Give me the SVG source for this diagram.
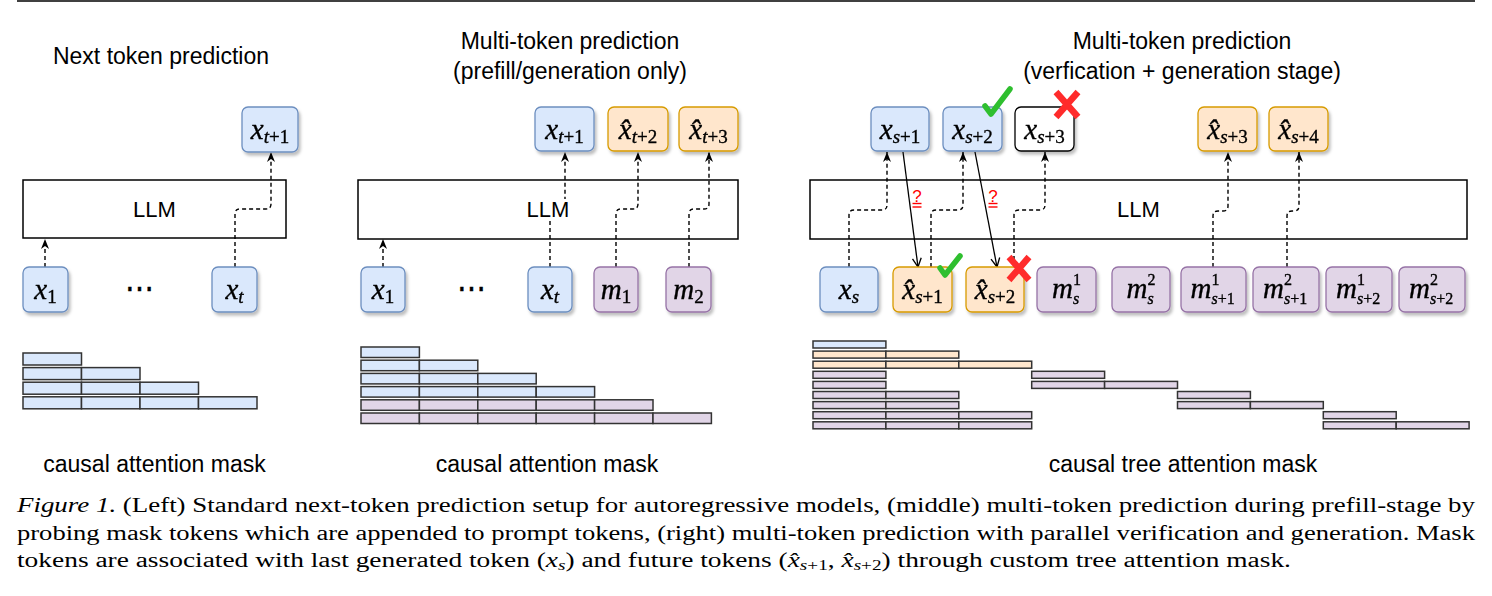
<svg xmlns="http://www.w3.org/2000/svg" width="1492" height="596" viewBox="0 0 1492 596">
<style>
.bl{fill:#dae8fc;stroke:#6c8ebf;stroke-width:1.3}
.or{fill:#ffe6cc;stroke:#d79b00;stroke-width:1.3}
.pu{fill:#e1d5e7;stroke:#9673a6;stroke-width:1.3}
.wh{fill:#fff;stroke:#000;stroke-width:1.3}
.node{filter:url(#sh)}
.llm{fill:none;stroke:#000;stroke-width:1.5}
.mask rect{stroke:#333;stroke-width:1.5}
.mb{fill:#dae8fc}.mo{fill:#ffe6cc}.mp{fill:#e1d5e7}
.sans{font-family:"Liberation Sans",Arial,sans-serif;fill:#000}
.t23{font-size:23px;text-anchor:middle}
.t22{font-size:22px;text-anchor:middle}
.mx{font-family:"Liberation Serif","Times New Roman",serif;font-style:italic;font-size:29px;fill:#000;stroke:#000;stroke-width:0.35}
.mid{text-anchor:middle}
.sb{font-size:19px}
.ss{font-size:16px}
.up{font-style:normal}
.dash{fill:none;stroke:#000;stroke-width:1.4;stroke-dasharray:4 3;marker-end:url(#arr)}
.solid{fill:none;stroke:#000;stroke-width:1.3;marker-end:url(#open)}
.q{font-family:"Liberation Sans",Arial,sans-serif;font-size:17px;fill:#ff0000;text-anchor:middle}
.qb{stroke:#ff0000;stroke-width:1.4}
.ok{fill:none;stroke:#2fbf2f;stroke-width:5.5;stroke-linecap:round;stroke-linejoin:round}
.no{fill:none;stroke:#ff2b2b;stroke-width:6.5}
.cap{font-family:"Liberation Serif","Times New Roman",serif;font-size:20px;fill:#000}
.cmi{font-style:italic}
</style>
<defs>
<filter id="sh" x="-15%" y="-15%" width="140%" height="150%">
<feDropShadow dx="2" dy="3" stdDeviation="1.5" flood-color="#000" flood-opacity="0.25"/>
</filter>
<marker id="arr" viewBox="0 0 10 8" refX="10" refY="4" markerWidth="10" markerHeight="8" markerUnits="userSpaceOnUse" orient="auto">
<path d="M0,0 L10,4 L0,8 L3,4 z" fill="#000"/>
</marker>
<marker id="open" viewBox="0 0 10 10" refX="9" refY="5" markerWidth="11" markerHeight="11" markerUnits="userSpaceOnUse" orient="auto">
<path d="M1,1 L9,5 L1,9" fill="none" stroke="#000" stroke-width="1.2"/>
</marker>
</defs>

<line x1="17" y1="1" x2="1475" y2="1" stroke="#000" stroke-width="1.6"/>

<!-- titles -->
<text class="sans t23" x="161" y="64">Next token prediction</text>
<text class="sans t23" x="570" y="49">Multi-token prediction</text>
<text class="sans t23" x="570" y="79">(prefill/generation only)</text>
<text class="sans t23" x="1182" y="49">Multi-token prediction</text>
<text class="sans t23" x="1182" y="79">(verfication + generation stage)</text>

<!-- connectors -->
<g id="connectors">
<path class="dash" d="M45,267 V239"/>
<path class="dash" d="M235,267 V214 Q235,209 240,209 H266 Q271,209 271,204 V152"/>
<path class="dash" d="M383,267 V239"/>
<path class="dash" d="M550,267 V214 Q550,209 555,209 H560 Q565,209 565,204 V152"/>
<path class="dash" d="M616,267 V214 Q616,209 621,209 H633 Q638,209 638,204 V152"/>
<path class="dash" d="M689,267 V214 Q689,209 694,209 H704 Q709,209 709,204 V152"/>
<path class="dash" d="M849,267 V215 Q849,210 854,210 H882 Q887,210 887,205 V152"/>
<path class="dash" d="M931,267 V215 Q931,210 936,210 H958 Q963,210 963,205 V152"/>
<path class="dash" d="M1014,267 V215 Q1014,210 1019,210 H1040 Q1045,210 1045,205 V152"/>
<path class="dash" d="M1213,267 V216 Q1213,211 1218,211 H1223 Q1228,211 1228,206 V152"/>
<path class="dash" d="M1287,267 V216 Q1287,211 1292,211 H1294 Q1299,211 1299,206 V152"/>
<path class="solid" d="M903,152 L918,267"/>
<path class="solid" d="M975,152 L997,267"/>
<text class="q" x="917" y="202">?</text>
<line class="qb" x1="912.5" y1="203.5" x2="921.5" y2="203.5"/><line class="qb" x1="912.5" y1="207" x2="921.5" y2="207"/>
<text class="q" x="993" y="202">?</text>
<line class="qb" x1="988.5" y1="203.5" x2="997.5" y2="203.5"/><line class="qb" x1="988.5" y1="207" x2="997.5" y2="207"/>
</g>

<!-- LLM boxes -->
<g id="llm-left"><rect class="llm" x="23" y="180" width="263" height="58"/><text class="sans t22" x="154.5" y="217">LLM</text></g>
<g id="llm-mid"><rect class="llm" x="358" y="180" width="380" height="59"/><rect x="525" y="199" width="45" height="19" fill="#fff"/><text class="sans t22" x="548" y="217">LLM</text></g>
<g id="llm-right"><rect class="llm" x="810" y="180" width="657" height="59"/><text class="sans t22" x="1138.5" y="217">LLM</text></g>

<!-- left panel nodes -->
<g id="l-xt1" class="node"><rect class="bl" x="242" y="107" width="56" height="45" rx="6"/><text class="mx mid" x="270" y="139">x<tspan class="sb" dy="4">t</tspan><tspan class="sb up">+1</tspan></text></g>
<g id="l-x1" class="node"><rect class="bl" x="23" y="267" width="45" height="45" rx="6"/><text class="mx mid" x="45.5" y="299">x<tspan class="sb up" dy="4">1</tspan></text></g>
<text class="mx up mid" x="139" y="298" stroke-width="0">⋯</text>
<g id="l-xt" class="node"><rect class="bl" x="212" y="267" width="45" height="45" rx="6"/><text class="mx mid" x="234.5" y="299">x<tspan class="sb" dy="4">t</tspan></text></g>

<!-- middle panel nodes -->
<g id="m-xt1" class="node"><rect class="bl" x="535" y="107" width="59" height="44" rx="6"/><text class="mx mid" x="564.5" y="139">x<tspan class="sb" dy="4">t</tspan><tspan class="sb up">+1</tspan></text></g>
<g id="m-xht2" class="node"><rect class="or" x="608" y="107" width="60" height="44" rx="6"/><text class="mx mid" x="638" y="139">x̂<tspan class="sb" dy="4">t</tspan><tspan class="sb up">+2</tspan></text></g>
<g id="m-xht3" class="node"><rect class="or" x="679" y="107" width="59" height="44" rx="6"/><text class="mx mid" x="708.5" y="139">x̂<tspan class="sb" dy="4">t</tspan><tspan class="sb up">+3</tspan></text></g>
<g id="m-x1" class="node"><rect class="bl" x="361" y="267" width="44" height="45" rx="6"/><text class="mx mid" x="383" y="299">x<tspan class="sb up" dy="4">1</tspan></text></g>
<text class="mx up mid" x="471" y="298" stroke-width="0">⋯</text>
<g id="m-xt" class="node"><rect class="bl" x="528" y="267" width="44" height="45" rx="6"/><text class="mx mid" x="550" y="299">x<tspan class="sb" dy="4">t</tspan></text></g>
<g id="m-m1" class="node"><rect class="pu" x="594" y="267" width="44" height="45" rx="6"/><text class="mx mid" x="616" y="299">m<tspan class="sb up" dy="4">1</tspan></text></g>
<g id="m-m2" class="node"><rect class="pu" x="666" y="267" width="45" height="45" rx="6"/><text class="mx mid" x="688.5" y="299">m<tspan class="sb up" dy="4">2</tspan></text></g>

<!-- right panel nodes -->
<g id="r-xs1" class="node"><rect class="bl" x="871" y="107" width="58" height="44" rx="6"/><text class="mx mid" x="900" y="139">x<tspan class="sb" dy="4">s</tspan><tspan class="sb up">+1</tspan></text></g>
<g id="r-xs2" class="node"><rect class="bl" x="943" y="107" width="59" height="44" rx="6"/><text class="mx mid" x="972.5" y="139">x<tspan class="sb" dy="4">s</tspan><tspan class="sb up">+2</tspan></text></g>
<g id="r-xs3" class="node"><rect class="wh" x="1015" y="107" width="59" height="44" rx="6"/><text class="mx mid" x="1044.5" y="139">x<tspan class="sb" dy="4">s</tspan><tspan class="sb up">+3</tspan></text></g>
<g id="r-xhs3" class="node"><rect class="or" x="1198" y="107" width="59" height="44" rx="6"/><text class="mx mid" x="1227.5" y="139">x̂<tspan class="sb" dy="4">s</tspan><tspan class="sb up">+3</tspan></text></g>
<g id="r-xhs4" class="node"><rect class="or" x="1269" y="107" width="59" height="44" rx="6"/><text class="mx mid" x="1298.5" y="139">x̂<tspan class="sb" dy="4">s</tspan><tspan class="sb up">+4</tspan></text></g>

<g id="r-xs" class="node"><rect class="bl" x="820" y="267" width="58" height="45" rx="6"/><text class="mx mid" x="849" y="299">x<tspan class="sb" dy="4">s</tspan></text></g>
<g id="r-xhs1" class="node"><rect class="or" x="893" y="267" width="59" height="45" rx="6"/><text class="mx mid" x="922.5" y="299">x̂<tspan class="sb" dy="4">s</tspan><tspan class="sb up">+1</tspan></text></g>
<g id="r-xhs2" class="node"><rect class="or" x="966" y="267" width="58" height="45" rx="6"/><text class="mx mid" x="995" y="299">x̂<tspan class="sb" dy="4">s</tspan><tspan class="sb up">+2</tspan></text></g>
<g id="r-ms1" class="node"><rect class="pu" x="1037" y="267" width="59" height="45" rx="6"/><text class="mx" x="1052" y="298">m</text><text class="mx ss up" x="1073" y="285">1</text><text class="mx ss" x="1073" y="304">s</text></g>
<g id="r-ms2" class="node"><rect class="pu" x="1112" y="267" width="58" height="45" rx="6"/><text class="mx" x="1126.5" y="298">m</text><text class="mx ss up" x="1147.5" y="285">2</text><text class="mx ss" x="1147.5" y="304">s</text></g>
<g id="r-ms11" class="node"><rect class="pu" x="1181" y="267" width="65" height="45" rx="6"/><text class="mx" x="1190.5" y="298">m</text><text class="mx ss up" x="1211.5" y="285">1</text><text class="mx ss" x="1211.5" y="304">s<tspan class="up">+1</tspan></text></g>
<g id="r-ms21" class="node"><rect class="pu" x="1253" y="267" width="66" height="45" rx="6"/><text class="mx" x="1263" y="298">m</text><text class="mx ss up" x="1284" y="285">2</text><text class="mx ss" x="1284" y="304">s<tspan class="up">+1</tspan></text></g>
<g id="r-ms12" class="node"><rect class="pu" x="1326" y="267" width="66" height="45" rx="6"/><text class="mx" x="1336" y="298">m</text><text class="mx ss up" x="1357" y="285">1</text><text class="mx ss" x="1357" y="304">s<tspan class="up">+2</tspan></text></g>
<g id="r-ms22" class="node"><rect class="pu" x="1399" y="267" width="66" height="45" rx="6"/><text class="mx" x="1409" y="298">m</text><text class="mx ss up" x="1430" y="285">2</text><text class="mx ss" x="1430" y="304">s<tspan class="up">+2</tspan></text></g>

<!-- verification marks -->
<g id="marks">
<path class="ok" d="M985,106 L991,114 L1010,89"/>
<path class="ok" d="M940,268 L945,275 L960,256"/>
<path class="no" d="M1056,92 L1078,117 M1078,92 L1056,117"/>
<path class="no" d="M1009,257 L1029,280 M1029,257 L1009,280"/>
</g>

<!-- masks -->
<g id="mask-left" class="mask">
<rect class="mb" x="23" y="353" width="58.5" height="12"/>
<rect class="mb" x="23" y="367.6" width="58.5" height="12"/><rect class="mb" x="81.5" y="367.6" width="58.5" height="12"/>
<rect class="mb" x="23" y="382.2" width="58.5" height="12"/><rect class="mb" x="81.5" y="382.2" width="58.5" height="12"/><rect class="mb" x="140" y="382.2" width="58.5" height="12"/>
<rect class="mb" x="23" y="396.8" width="58.5" height="12"/><rect class="mb" x="81.5" y="396.8" width="58.5" height="12"/><rect class="mb" x="140" y="396.8" width="58.5" height="12"/><rect class="mb" x="198.5" y="396.8" width="58.5" height="12"/>
</g>
<text class="sans t23" x="154.5" y="472">causal attention mask</text>

<g id="mask-mid" class="mask">
<rect class="mb" x="361" y="347" width="58.4" height="10.5"/>
<rect class="mb" x="361" y="360.2" width="58.4" height="10.5"/><rect class="mb" x="419.4" y="360.2" width="58.4" height="10.5"/>
<rect class="mb" x="361" y="373.4" width="58.4" height="10.5"/><rect class="mb" x="419.4" y="373.4" width="58.4" height="10.5"/><rect class="mb" x="477.8" y="373.4" width="58.4" height="10.5"/>
<rect class="mb" x="361" y="386.6" width="58.4" height="10.5"/><rect class="mb" x="419.4" y="386.6" width="58.4" height="10.5"/><rect class="mb" x="477.8" y="386.6" width="58.4" height="10.5"/><rect class="mb" x="536.2" y="386.6" width="58.4" height="10.5"/>
<rect class="mp" x="361" y="399.8" width="58.4" height="10.5"/><rect class="mp" x="419.4" y="399.8" width="58.4" height="10.5"/><rect class="mp" x="477.8" y="399.8" width="58.4" height="10.5"/><rect class="mp" x="536.2" y="399.8" width="58.4" height="10.5"/><rect class="mp" x="594.6" y="399.8" width="58.4" height="10.5"/>
<rect class="mp" x="361" y="413" width="58.4" height="10.5"/><rect class="mp" x="419.4" y="413" width="58.4" height="10.5"/><rect class="mp" x="477.8" y="413" width="58.4" height="10.5"/><rect class="mp" x="536.2" y="413" width="58.4" height="10.5"/><rect class="mp" x="594.6" y="413" width="58.4" height="10.5"/><rect class="mp" x="653" y="413" width="58.4" height="10.5"/>
</g>
<text class="sans t23" x="547" y="472">causal attention mask</text>

<g id="mask-right" class="mask">
<rect class="mb" x="813" y="341" width="72.9" height="7"/>
<rect class="mo" x="813" y="351.1" width="72.9" height="7"/><rect class="mo" x="885.9" y="351.1" width="72.9" height="7"/>
<rect class="mo" x="813" y="361.2" width="72.9" height="7"/><rect class="mo" x="885.9" y="361.2" width="72.9" height="7"/><rect class="mo" x="958.8" y="361.2" width="72.9" height="7"/>
<rect class="mp" x="813" y="371.3" width="72.9" height="7"/><rect class="mp" x="1031.7" y="371.3" width="72.9" height="7"/>
<rect class="mp" x="813" y="381.4" width="72.9" height="7"/><rect class="mp" x="1031.7" y="381.4" width="72.9" height="7"/><rect class="mp" x="1104.6" y="381.4" width="72.9" height="7"/>
<rect class="mp" x="813" y="391.5" width="72.9" height="7"/><rect class="mp" x="885.9" y="391.5" width="72.9" height="7"/><rect class="mp" x="1177.5" y="391.5" width="72.9" height="7"/>
<rect class="mp" x="813" y="401.6" width="72.9" height="7"/><rect class="mp" x="885.9" y="401.6" width="72.9" height="7"/><rect class="mp" x="1177.5" y="401.6" width="72.9" height="7"/><rect class="mp" x="1250.4" y="401.6" width="72.9" height="7"/>
<rect class="mp" x="813" y="411.7" width="72.9" height="7"/><rect class="mp" x="885.9" y="411.7" width="72.9" height="7"/><rect class="mp" x="958.8" y="411.7" width="72.9" height="7"/><rect class="mp" x="1323.3" y="411.7" width="72.9" height="7"/>
<rect class="mp" x="813" y="421.8" width="72.9" height="7"/><rect class="mp" x="885.9" y="421.8" width="72.9" height="7"/><rect class="mp" x="958.8" y="421.8" width="72.9" height="7"/><rect class="mp" x="1323.3" y="421.8" width="72.9" height="7"/><rect class="mp" x="1396.2" y="421.8" width="72.9" height="7"/>
</g>
<text class="sans t23" x="1183" y="472">causal tree attention mask</text>

<!-- caption -->
<text class="cap" x="17" y="512" textLength="1458" lengthAdjust="spacingAndGlyphs"><tspan class="cmi">Figure 1.</tspan> (Left) Standard next-token prediction setup for autoregressive models, (middle) multi-token prediction during prefill-stage by</text>
<text class="cap" x="17" y="539.5" textLength="1458" lengthAdjust="spacingAndGlyphs">probing mask tokens which are appended to prompt tokens, (right) multi-token prediction with parallel verification and generation. Mask</text>
<text class="cap" x="17" y="567" textLength="1274" lengthAdjust="spacingAndGlyphs">tokens are associated with last generated token (<tspan class="cmi">x</tspan><tspan class="cmi" font-size="14" dy="3">s</tspan><tspan dy="-3">) and future tokens (</tspan><tspan class="cmi">x̂</tspan><tspan class="cmi" font-size="14" dy="3">s</tspan><tspan font-size="14">+1</tspan><tspan dy="-3">, </tspan><tspan class="cmi">x̂</tspan><tspan class="cmi" font-size="14" dy="3">s</tspan><tspan font-size="14">+2</tspan><tspan dy="-3">) through custom tree attention mask.</tspan></text>
</svg>
